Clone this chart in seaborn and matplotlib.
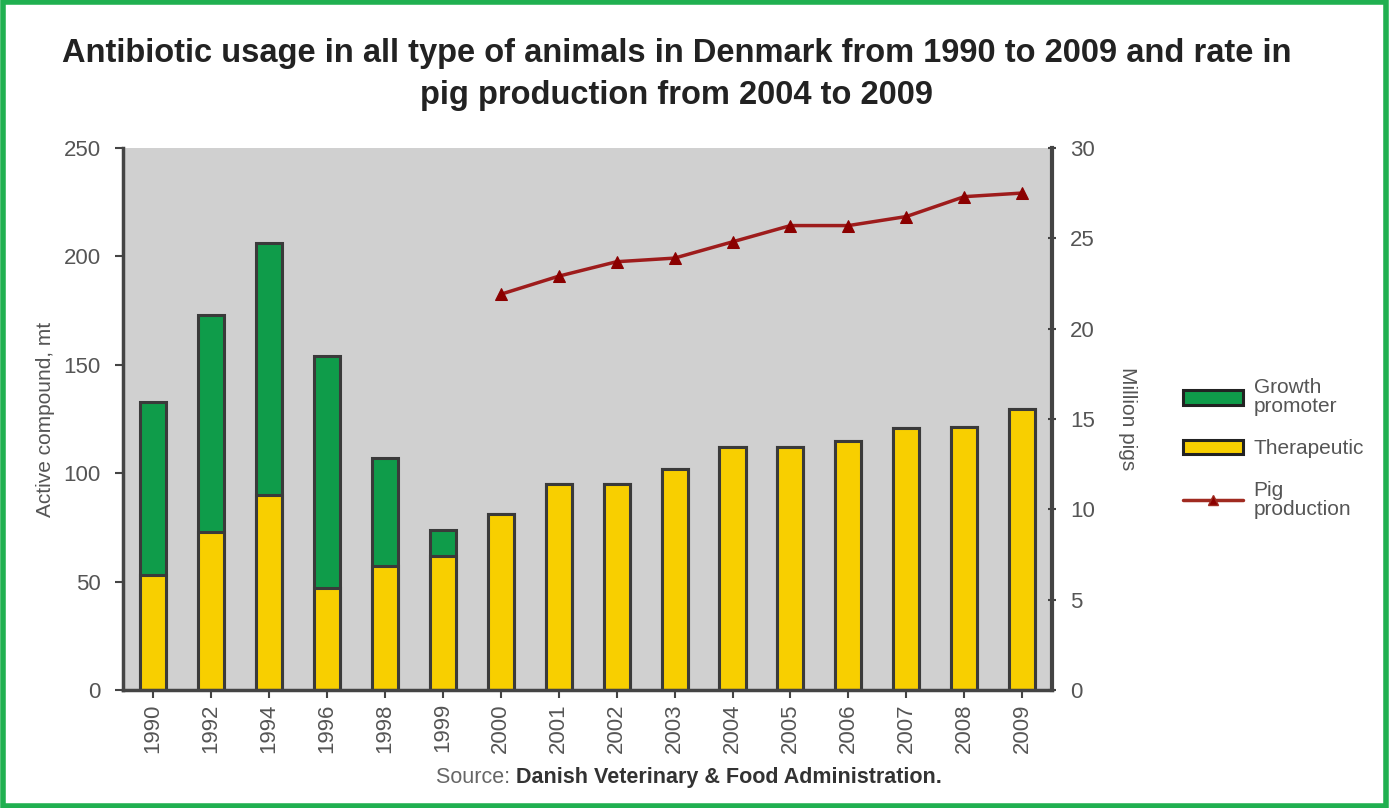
import numpy as np
import pandas as pd
import matplotlib
matplotlib.use("Agg")
import matplotlib.pyplot as plt
import seaborn as sns
from matplotlib.patches import Patch, Rectangle
from matplotlib.lines import Line2D

# data
years = ['1990', '1992', '1994', '1996', '1998', '1999', '2000', '2001', '2002',
         '2003', '2004', '2005', '2006', '2007', '2008', '2009']
therapeutic = [53, 73, 90, 47, 57, 62, 81, 95, 95, 102, 112, 112, 115, 121, 121.5, 129.5]
growth_promoter = [80, 100, 116, 107, 50, 12, 0, 0, 0, 0, 0, 0, 0, 0, 0, 0]
pig_years = ['2000', '2001', '2002', '2003', '2004', '2005', '2006', '2007', '2008', '2009']
pig_production = [21.9, 22.9, 23.7, 23.9, 24.8, 25.7, 25.7, 26.2, 27.3, 27.5]

sns.set_theme(style="white")
plt.rcParams['font.family'] = ['Liberation Sans', 'DejaVu Sans']

df = pd.DataFrame({'year': years, 'therapeutic': therapeutic,
                   'total': np.array(therapeutic) + np.array(growth_promoter)})

fig = plt.figure(figsize=(13.89, 8.08), dpi=100)
ax = fig.add_axes([0.0886, 0.146, 0.669, 0.671])
ax.set_facecolor('#d0d0d0')

green = '#0f9c4a'
yellow = '#f8cf00'
edge = '#3a3a3a'
tick_col = '#555555'

# total bar (green) then therapeutic part on top of it
sns.barplot(data=df, x='year', y='total', ax=ax, color=green, width=0.45,
            edgecolor=edge, linewidth=2.2, saturation=1)
sns.barplot(data=df, x='year', y='therapeutic', ax=ax, color=yellow, width=0.45,
            edgecolor=edge, linewidth=2.2, saturation=1)

ax.set_ylim(0, 250)
ax.set_xlim(-0.52, 15.52)
ax.set_yticks([0, 50, 100, 150, 200, 250])
ax.set_xlabel('')
ax.set_ylabel('Active compound, mt', fontsize=15, color=tick_col, labelpad=6)
ax.tick_params(axis='x', rotation=90, labelsize=16, colors=tick_col, length=6,
               width=1.5, direction='out', bottom=True, color='#444444')
ax.tick_params(axis='y', labelsize=16, colors=tick_col, length=6, width=1.5,
               direction='out', left=True, color='#444444', pad=10)
ax.set_xticks(range(len(years)))
ax.set_xticklabels(years, rotation=90)
for s in ['left', 'bottom']:
    ax.spines[s].set_color('#444444')
    ax.spines[s].set_linewidth(2.5)
ax.spines['top'].set_visible(False)
ax.spines['right'].set_visible(False)

# pig production on secondary axis
ax2 = ax.twinx()
pig_x = [years.index(y) for y in pig_years]
sns.lineplot(x=pig_x, y=pig_production, ax=ax2, color='#9e1c1c', linewidth=2.5,
             marker='^', markersize=8, markeredgecolor='#8b0000', markerfacecolor='#8b0000')
ax2.set_ylim(0, 30)
ax2.set_yticks([0, 5, 10, 15, 20, 25, 30])
ax2.tick_params(axis='y', labelsize=16, colors=tick_col, length=6, width=1.5,
                direction='inout', right=True, color='#444444', pad=10)
ax2.set_ylabel('Million pigs', fontsize=15, color=tick_col, rotation=-90, labelpad=30)
for s in ['left', 'bottom', 'top']:
    ax2.spines[s].set_visible(False)
ax2.spines['right'].set_color('#444444')
ax2.spines['right'].set_linewidth(3)

# title
fig.text(0.487, 0.908, 'Antibiotic usage in all type of animals in Denmark from 1990 to 2009 and rate in\npig production from 2004 to 2009',
         ha='center', va='center', fontsize=23.5, fontweight='bold', color='#222222',
         linespacing=1.45)

# source line: normal prefix followed by bold name
src = fig.text(0.314, 0.038, 'Source: ', ha='left', va='center', fontsize=15.5, color='#666666')
plt.annotate('Danish Veterinary & Food Administration.', xy=(1, 0), xycoords=src,
             ha='left', va='bottom', fontsize=15.5, color='#333333', fontweight='bold')

# legend
handles = [Patch(facecolor=green, edgecolor='#222222', linewidth=2.2, label='Growth\npromoter'),
           Patch(facecolor=yellow, edgecolor='#222222', linewidth=2.2, label='Therapeutic'),
           Line2D([0], [0], color='#a02a20', linewidth=2.5, marker='^', markersize=7,
                  markerfacecolor='#8b0000', label='Pig\nproduction')]
leg = fig.legend(handles=handles, loc='upper left', bbox_to_anchor=(0.838, 0.555),
                 frameon=False, fontsize=15, handlelength=2.9, handleheight=0.7,
                 labelspacing=1.1, handletextpad=0.5)
for t in leg.get_texts():
    t.set_color(tick_col)
    t.set_linespacing(1.0)

# green frame around the figure
fig.patches.append(Rectangle((0.002, 0.003), 0.996, 0.994, transform=fig.transFigure,
                             fill=False, edgecolor='#20b050', linewidth=4))

fig.savefig('out.png', dpi=100, facecolor='white')
